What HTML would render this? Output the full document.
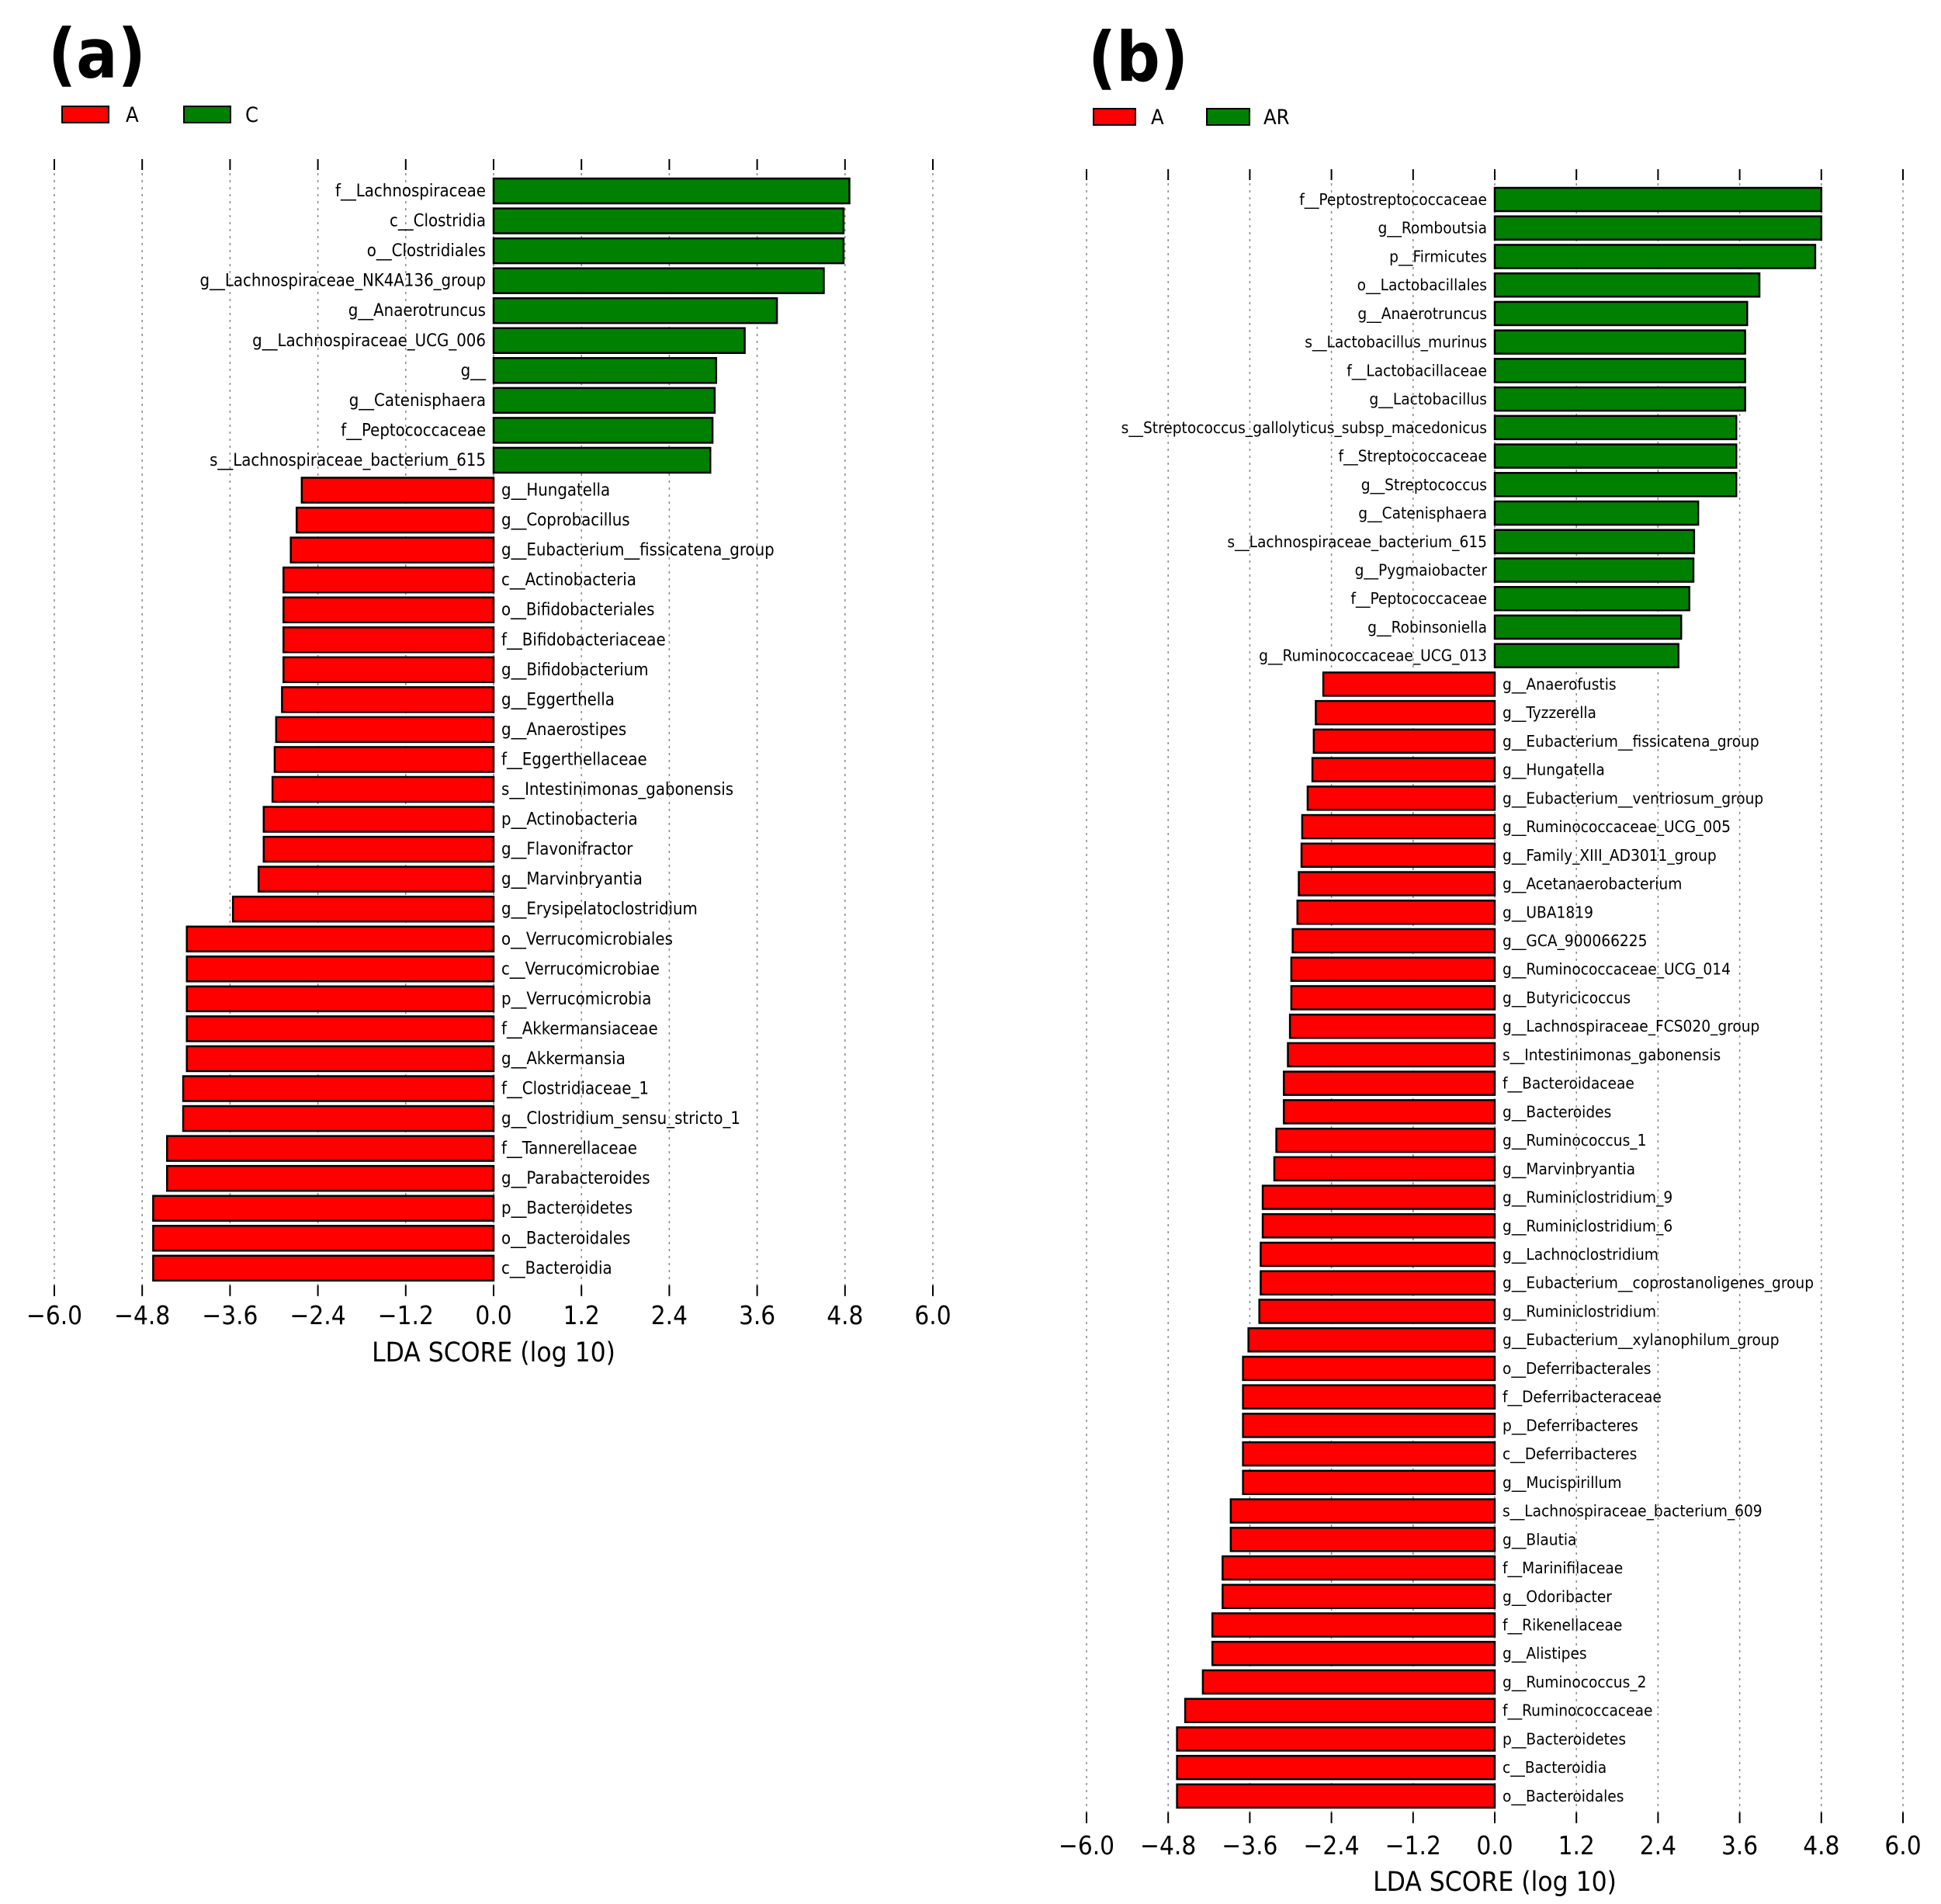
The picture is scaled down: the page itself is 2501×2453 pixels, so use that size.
<!DOCTYPE html>
<html><head><meta charset="utf-8"><style>
html,body{margin:0;padding:0;background:#fff}
svg{display:block}
text{font-family:"DejaVu Sans Condensed","Liberation Sans Narrow","Liberation Sans",sans-serif}
</style></head><body>
<svg id="chart" width="2501" height="2453" viewBox="0 0 2501 2453" xmlns="http://www.w3.org/2000/svg">
<rect x="0" y="0" width="2501" height="2453" fill="#fff"/>
<text x="62" y="100" font-size="88" font-weight="bold" font-family="Liberation Sans, sans-serif">(a)</text>
<text x="1402" y="104" font-size="88" font-weight="bold" font-family="Liberation Sans, sans-serif">(b)</text>
<g>
<rect x="80" y="137" width="60" height="21" fill="#ff0000" stroke="#000" stroke-width="2"/>
<text x="162" y="157" font-size="27">A</text>
<rect x="237" y="137" width="60" height="21" fill="#008000" stroke="#000" stroke-width="2"/>
<text x="316" y="157" font-size="27">C</text>
</g>
<g>
<rect x="1409" y="140" width="54" height="21" fill="#ff0000" stroke="#000" stroke-width="2"/>
<text x="1483" y="160" font-size="27">A</text>
<rect x="1555" y="140" width="55" height="21" fill="#008000" stroke="#000" stroke-width="2"/>
<text x="1628" y="160" font-size="27">AR</text>
</g>
<g id="pa"></g>
<g id="pb"></g>
</svg>
<script>
const tickValues = [-6.0,-4.8,-3.6,-2.4,-1.2,0.0,1.2,2.4,3.6,4.8,6.0];
const tickLabels = ["\u22126.0","\u22124.8","\u22123.6","\u22122.4","\u22121.2","0.0","1.2","2.4","3.6","4.8","6.0"];
const aLabels = ["f__Lachnospiraceae","c__Clostridia","o__Clostridiales","g__Lachnospiraceae_NK4A136_group","g__Anaerotruncus","g__Lachnospiraceae_UCG_006","g__","g__Catenisphaera","f__Peptococcaceae","s__Lachnospiraceae_bacterium_615","g__Hungatella","g__Coprobacillus","g__Eubacterium__fissicatena_group","c__Actinobacteria","o__Bifidobacteriales","f__Bifidobacteriaceae","g__Bifidobacterium","g__Eggerthella","g__Anaerostipes","f__Eggerthellaceae","s__Intestinimonas_gabonensis","p__Actinobacteria","g__Flavonifractor","g__Marvinbryantia","g__Erysipelatoclostridium","o__Verrucomicrobiales","c__Verrucomicrobiae","p__Verrucomicrobia","f__Akkermansiaceae","g__Akkermansia","f__Clostridiaceae_1","g__Clostridium_sensu_stricto_1","f__Tannerellaceae","g__Parabacteroides","p__Bacteroidetes","o__Bacteroidales","c__Bacteroidia"];
const aValues = [4.86,4.78,4.78,4.51,3.87,3.43,3.04,3.02,2.99,2.96,-2.62,-2.69,-2.77,-2.87,-2.87,-2.87,-2.87,-2.89,-2.97,-2.99,-3.02,-3.14,-3.14,-3.21,-3.56,-4.19,-4.19,-4.19,-4.19,-4.19,-4.24,-4.24,-4.46,-4.46,-4.65,-4.65,-4.65];
const bLabels = ["f__Peptostreptococcaceae","g__Romboutsia","p__Firmicutes","o__Lactobacillales","g__Anaerotruncus","s__Lactobacillus_murinus","f__Lactobacillaceae","g__Lactobacillus","s__Streptococcus_gallolyticus_subsp_macedonicus","f__Streptococcaceae","g__Streptococcus","g__Catenisphaera","s__Lachnospiraceae_bacterium_615","g__Pygmaiobacter","f__Peptococcaceae","g__Robinsoniella","g__Ruminococcaceae_UCG_013","g__Anaerofustis","g__Tyzzerella","g__Eubacterium__fissicatena_group","g__Hungatella","g__Eubacterium__ventriosum_group","g__Ruminococcaceae_UCG_005","g__Family_XIII_AD3011_group","g__Acetanaerobacterium","g__UBA1819","g__GCA_900066225","g__Ruminococcaceae_UCG_014","g__Butyricicoccus","g__Lachnospiraceae_FCS020_group","s__Intestinimonas_gabonensis","f__Bacteroidaceae","g__Bacteroides","g__Ruminococcus_1","g__Marvinbryantia","g__Ruminiclostridium_9","g__Ruminiclostridium_6","g__Lachnoclostridium","g__Eubacterium__coprostanoligenes_group","g__Ruminiclostridium","g__Eubacterium__xylanophilum_group","o__Deferribacterales","f__Deferribacteraceae","p__Deferribacteres","c__Deferribacteres","g__Mucispirillum","s__Lachnospiraceae_bacterium_609","g__Blautia","f__Marinifilaceae","g__Odoribacter","f__Rikenellaceae","g__Alistipes","g__Ruminococcus_2","f__Ruminococcaceae","p__Bacteroidetes","c__Bacteroidia","o__Bacteroidales"];
const bValues = [4.80,4.80,4.71,3.89,3.71,3.68,3.68,3.68,3.55,3.55,3.55,2.99,2.93,2.92,2.86,2.74,2.70,-2.52,-2.63,-2.66,-2.68,-2.75,-2.83,-2.84,-2.88,-2.90,-2.97,-2.99,-2.99,-3.01,-3.04,-3.10,-3.10,-3.21,-3.24,-3.41,-3.41,-3.44,-3.44,-3.46,-3.62,-3.70,-3.70,-3.70,-3.70,-3.70,-3.88,-3.88,-4.00,-4.00,-4.15,-4.15,-4.29,-4.55,-4.67,-4.67,-4.67];

const NS="http://www.w3.org/2000/svg";
function mk(tag, attrs, parent){const e=document.createElementNS(NS,tag);for(const k in attrs)e.setAttribute(k,attrs[k]);parent.appendChild(e);return e;}

function drawPanel(g, labels, values, cfg){
  const xs = v => cfg.x0 + (v - (-6)) * (cfg.x1 - cfg.x0) / 12;
  const ys = i => cfg.yFirst + i * cfg.step;
  const gridBottom = ys(labels.length-1) + cfg.barH/2 + 6;
  tickValues.forEach((t,i)=>{
    const x = xs(t);
    const gl = mk('line',{x1:x,x2:x,y1:cfg.gridTop,y2:gridBottom,stroke:'#888','stroke-width':1.5,'stroke-dasharray':'3,6'},g);
    
    
    const tt = mk('line',{x1:x,x2:x,y1:cfg.gridTop,y2:cfg.gridTop+14,stroke:'#000','stroke-width':2},g);
    
    
    const tb = mk('line',{x1:x,x2:x,y1:gridBottom,y2:gridBottom+14,stroke:'#000','stroke-width':2},g);
    
    
    const tl = mk('text',{x:x,y:cfg.tickY,'font-size':cfg.tickFont,'text-anchor':'middle',fill:'#000'},g);
    tl.textContent = tickLabels[i];
    
    
  });
  const zero = xs(0);
  values.forEach((v,i)=>{
    const cy = ys(i);
    const xa = xs(Math.min(0,v)), xb = xs(Math.max(0,v));
    const r = mk('rect',{x:xa,y:cy-cfg.barH/2,width:xb-xa,height:cfg.barH,fill:v>0?'#008000':'#ff0000',stroke:'#000','stroke-width':2.5},g);
    
    
    const t = mk('text',{x:v>0?zero-10:zero+10,y:cy+7,'font-size':cfg.labFont,'text-anchor':v>0?'end':'start',fill:'#000'},g);
    t.textContent = labels[i];
    
    
  });
  const at = mk('text',{x:zero,y:cfg.titleY,'font-size':cfg.titleFont,'text-anchor':'middle',fill:'#000'},g);
  at.textContent = 'LDA SCORE (log 10)';
  
  
}
drawPanel(document.getElementById('pa'), aLabels, aValues,
  {x0:70,x1:1202,gridTop:205,yFirst:246,step:38.55,barH:32,tickY:1706,tickFont:33,labFont:22,titleY:1754,titleFont:35});
drawPanel(document.getElementById('pb'), bLabels, bValues,
  {x0:1400,x1:2452,gridTop:218,yFirst:257,step:36.73,barH:30,tickY:2389,tickFont:33,labFont:20.7,titleY:2436,titleFont:35});
</script>
</body></html>
